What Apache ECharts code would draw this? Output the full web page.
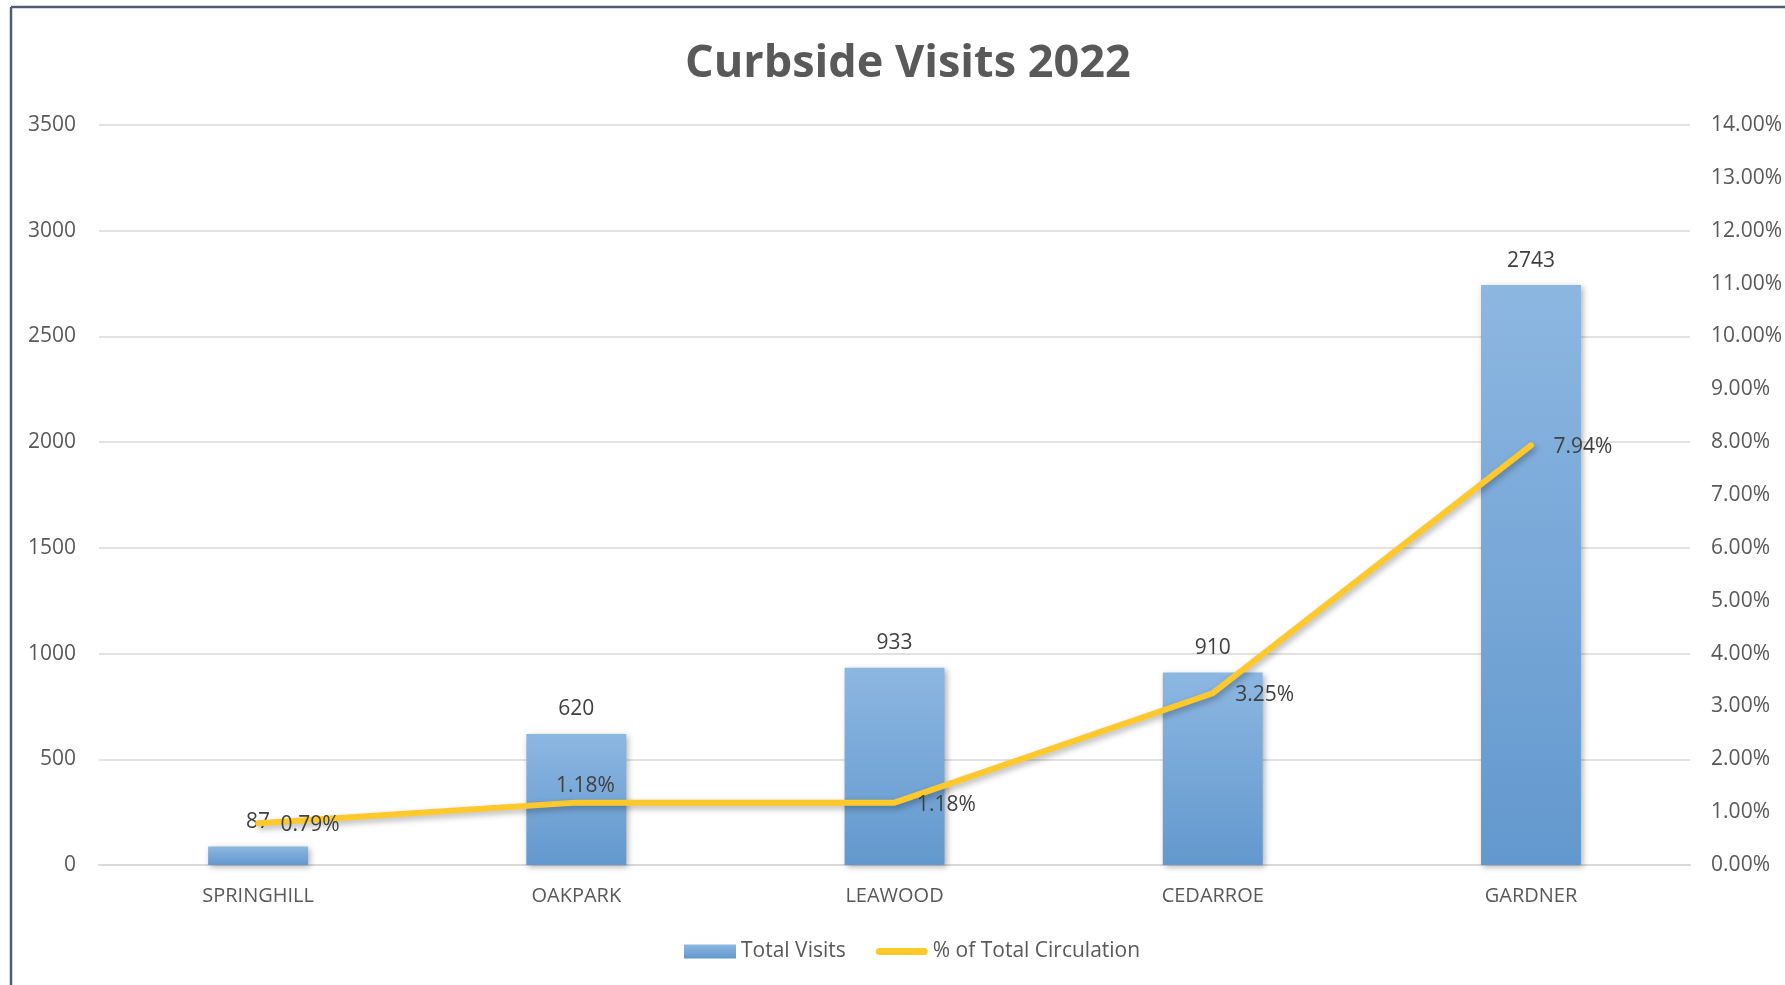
<!DOCTYPE html>
<html>
<head>
<meta charset="utf-8">
<script src="https://cdn.jsdelivr.net/npm/echarts@6/dist/echarts.min.js"></script>
<style>
html,body{margin:0;padding:0;background:#fff;}
#chart{width:1785px;height:985px;}
</style>
</head>
<body>
<div id="chart"></div>
<script>
const titleText = 'Curbside Visits 2022';
const categories = ['SPRINGHILL', 'OAKPARK', 'LEAWOOD', 'CEDARROE', 'GARDNER'];
const totalVisits = [87, 620, 933, 910, 2743];
const pctCirculation = [0.79, 1.18, 1.18, 3.25, 7.94];
const seriesNames = ['Total Visits', '% of Total Circulation'];

const FONT = 'Open Sans';
const LINE_COLOR = '#FFC92B';
const chart = echarts.init(document.getElementById('chart'));

const lineData = pctCirculation.map((v, i) => ({
  value: v,
  label: i === 1 ? { position: 'top', distance: 6, offset: [9, 0] } : { position: 'right', distance: 22, offset: [0, 2] }
}));

chart.setOption({
  backgroundColor: '#ffffff',
  animation: false,
  title: {
    text: titleText,
    left: 680,
    top: 37,
    textStyle: { fontFamily: FONT, fontSize: 45, fontWeight: 'bold', color: '#595959' }
  },
  graphic: [
    { type: 'line', shape: { x1: 11, y1: 7, x2: 1785, y2: 7 }, style: { stroke: '#4F5D73', lineWidth: 2.5 } },
    { type: 'line', shape: { x1: 11, y1: 7, x2: 11, y2: 985 }, style: { stroke: '#4F5D73', lineWidth: 2.5 } }
  ],
  legend: {
    left: 679,
    top: 936,
    itemWidth: 52,
    itemHeight: 14,
    itemGap: 30,
    textStyle: { fontFamily: FONT, fontSize: 21, color: '#595959' },
    data: [
      { name: seriesNames[0], icon: 'rect' },
      { name: seriesNames[1], icon: 'path://M4,0 H54 A4,4 0 0 1 54,8 H4 A4,4 0 0 1 4,0 Z', itemStyle: { color: LINE_COLOR } }
    ]
  },
  grid: { left: 99, right: 93, top: 125, bottom: 120 },
  xAxis: {
    type: 'category',
    data: categories,
    axisTick: { show: false },
    axisLine: { lineStyle: { color: '#D9D9D9', width: 2 } },
    axisLabel: { fontFamily: FONT, fontSize: 20, color: '#595959', margin: 21 }
  },
  yAxis: [
    {
      type: 'value', min: 0, max: 3500, interval: 500,
      axisLine: { show: false }, axisTick: { show: false },
      splitLine: { lineStyle: { color: '#D9D9D9', width: 1.5 } },
      axisLabel: { fontFamily: FONT, fontSize: 21, color: '#595959', margin: 23, formatter: v => String(v) }
    },
    {
      type: 'value', min: 0, max: 14, interval: 1, position: 'right',
      axisLine: { show: false }, axisTick: { show: false },
      splitLine: { show: false },
      axisLabel: { fontFamily: FONT, fontSize: 21, color: '#595959', margin: 21,
        formatter: v => v.toFixed(2) + '%' }
    }
  ],
  series: [
    {
      name: seriesNames[0],
      type: 'bar',
      data: totalVisits,
      barWidth: '31.4%',
      itemStyle: {
        color: new echarts.graphic.LinearGradient(0, 0, 0, 1, [
          { offset: 0, color: '#8CB7E1' },
          { offset: 1, color: '#6398CE' }
        ]),
        shadowColor: 'rgba(0,0,0,0.3)', shadowBlur: 6, shadowOffsetX: 2, shadowOffsetY: 2
      },
      label: { show: true, position: 'top', distance: 14, fontFamily: FONT, fontSize: 21, color: '#404040' }
    },
    {
      name: seriesNames[1],
      type: 'line',
      yAxisIndex: 1,
      data: lineData,
      symbol: 'circle',
      symbolSize: 1,
      showSymbol: true,
      lineStyle: { color: LINE_COLOR, width: 6, cap: 'round', join: 'round',
        shadowColor: 'rgba(0,0,0,0.3)', shadowBlur: 6, shadowOffsetX: 2, shadowOffsetY: 3 },
      itemStyle: { color: LINE_COLOR },
      label: { show: true, fontFamily: FONT, fontSize: 21, color: '#404040',
        formatter: p => p.value.toFixed(2) + '%' },
      z: 5
    }
  ]
});
</script>
</body>
</html>
